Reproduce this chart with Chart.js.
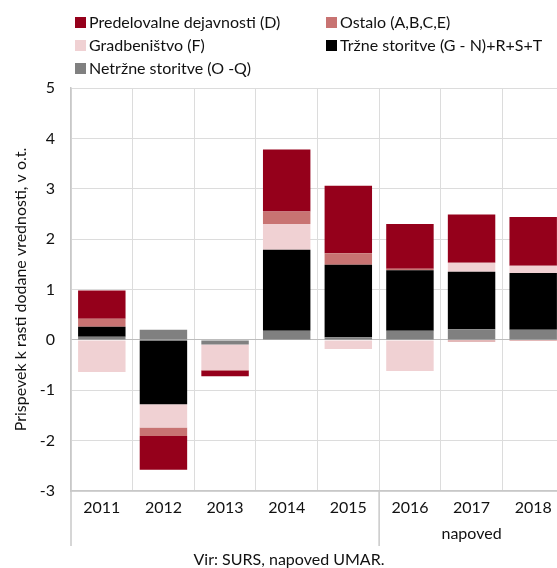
<!DOCTYPE html>
<html>
<head>
<meta charset="utf-8">
<script src="https://cdn.jsdelivr.net/npm/chart.js@4"></script>
<style>
  body { margin: 0; overflow: hidden; background: #fff; font-family: Lato, sans-serif; }
  #wrap { position: relative; width: 566px; height: 568px; }
  #legend { position: absolute; left: 75px; top: 12px; display: grid; grid-template-columns: 251px auto; row-gap: 3px; }
  #legend div { font-size: 16px; line-height: 20px; color: #111; white-space: nowrap; }
  #legend span { display: inline-block; width: 11px; height: 11px; margin-right: 3px; vertical-align: 0px; }
  #source { position: absolute; left: 0; width: 578px; top: 549px; text-align: center; font-size: 16px; line-height: 20px; color: #111; }
</style>
</head>
<body>
<div id="wrap">
  <canvas id="chart-1" width="566" height="568"></canvas>
  <div id="legend"></div>
  <div id="source">Vir: SURS, napoved UMAR.</div>
</div>
<script>
// data
var years = ["2011", "2012", "2013", "2014", "2015", "2016", "2017", "2018"];
var groups = ["", "", "", "", "", "", "napoved", ""];

var netrzne   = [0.06, 0.20, -0.09, 0.18, 0.05, 0.18, 0.21, 0.20];
var trzne     = [0.20, -1.28, 0.00, 1.61, 1.44, 1.20, 1.14, 1.13];
var gradb     = [-0.64, -0.46, -0.51, 0.51, -0.18, -0.62, 0.18, 0.14];
var ostalo    = [0.16, -0.17, -0.01, 0.25, 0.23, 0.03, -0.03, -0.02];
var predelov  = [0.56, -0.67, -0.11, 1.23, 1.34, 0.89, 0.96, 0.97];

var yTicks = [5, 4, 3, 2, 1, 0, -1, -2, -3];

var labels = years.map(function (y, i) { return [y, groups[i]]; });

// vertical separators under the x axis (left edge + forecast boundary)
var separators = {
  id: 'separators',
  afterDraw: function (chart) {
    var ctx = chart.ctx, a = chart.chartArea, x = chart.scales.x;
    var xs = [a.left, (x.getPixelForValue(4) + x.getPixelForValue(5)) / 2];
    ctx.save();
    ctx.strokeStyle = '#c8c8c8';
    ctx.lineWidth = 1.5;
    xs.forEach(function (px) {
      ctx.beginPath();
      ctx.moveTo(px, a.bottom);
      ctx.lineTo(px, a.bottom + 55);
      ctx.stroke();
    });
    ctx.restore();
  }
};

var chart = new Chart(document.getElementById("chart-1"), {
  type: 'bar',
  data: {
    labels: labels,
    datasets: [
      { label: "Netržne storitve (O -Q)", backgroundColor: "#808080", data: netrzne },
      { label: "Tržne storitve (G - N)+R+S+T", backgroundColor: "#000000", data: trzne },
      { label: "Gradbeništvo (F)", backgroundColor: "#f0d1d3", data: gradb },
      { label: "Ostalo (A,B,C,E)", backgroundColor: "#c87372", data: ostalo },
      { label: "Predelovalne dejavnosti (D)", backgroundColor: "#95001b", data: predelov }
    ]
  },
  options: {
    responsive: false,
    animation: false,
    layout: { padding: { top: 88, left: 0, right: 2, bottom: 17 } },
    datasets: { bar: { barPercentage: 0.77, categoryPercentage: 1 } },
    plugins: {
      legend: { display: false },
      tooltip: { enabled: false }
    },
    scales: {
      x: {
        stacked: true,
        grid: { color: '#dcdcdc', drawTicks: false, offset: true },
        border: { color: '#c8c8c8', width: 1.5 },
        ticks: {
          color: '#111',
          padding: 4,
          font: { family: 'Lato', size: 16, lineHeight: 1.625 },
          maxRotation: 0,
          autoSkip: false
        }
      },
      y: {
        stacked: true,
        min: -3,
        max: 5,
        afterBuildTicks: function (axis) {
          axis.ticks = yTicks.map(function (v) { return { value: v }; });
        },
        afterFit: function (axis) { axis.width = 71; },
        grid: {
          drawTicks: false,
          color: function (c) { return c.tick && c.tick.value === 0 ? '#bdbdbd' : '#dcdcdc'; }
        },
        border: { color: '#c8c8c8', width: 1.5 },
        ticks: {
          color: '#111',
          padding: 16,
          font: { family: 'Lato', size: 16 }
        },
        title: {
          display: true,
          text: 'Prispevek k rasti dodane vrednosti, v o.t.',
          color: '#111',
          font: { family: 'Lato', size: 16 },
          padding: { top: 11, bottom: 0 }
        }
      }
    }
  },
  plugins: [separators]
});

// legend, same order as the original (reverse of stacking order)
var legendOrder = [4, 3, 2, 1, 0];
var legendEl = document.getElementById('legend');
legendOrder.forEach(function (i) {
  var ds = chart.data.datasets[i];
  var item = document.createElement('div');
  var box = document.createElement('span');
  box.style.background = ds.backgroundColor;
  item.appendChild(box);
  item.appendChild(document.createTextNode(ds.label));
  legendEl.appendChild(item);
});
</script>
</body>
</html>
